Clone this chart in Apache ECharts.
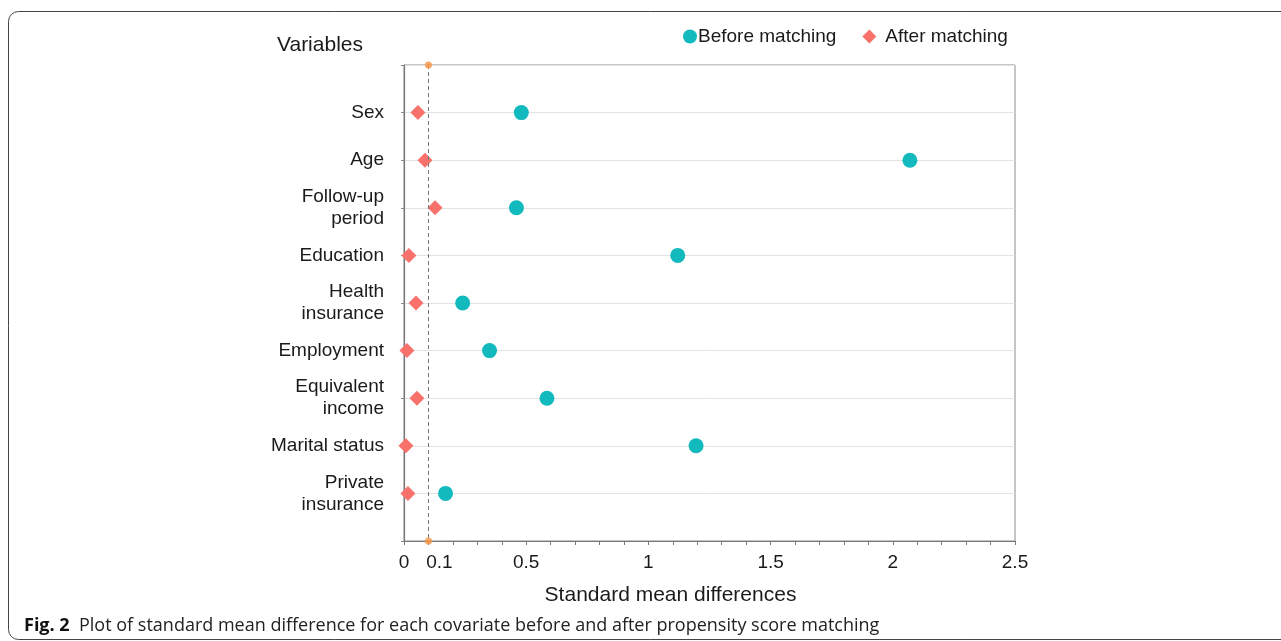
<!DOCTYPE html>
<html>
<head>
<meta charset="utf-8">
<script src="https://cdn.jsdelivr.net/npm/echarts@6/dist/echarts.min.js"></script>
<style>
html,body{margin:0;padding:0;background:#fff;}
#c{width:1281px;height:641px;}
</style>
</head>
<body>
<div id="c"></div>
<script>
const categories = ['', 'Sex', 'Age', 'Follow-up\nperiod', 'Education', 'Health\ninsurance', 'Employment', 'Equivalent\nincome', 'Marital status', 'Private\ninsurance', ''];
const variables = categories.slice(1, 10);
const beforeMatching = [0.48, 2.07, 0.46, 1.12, 0.24, 0.35, 0.585, 1.195, 0.17];
const afterMatching = [0.057, 0.086, 0.127, 0.02, 0.049, 0.012, 0.053, 0.008, 0.016];
const threshold = 0.1;
const xTickLabels = [0, 0.1, 0.5, 1, 1.5, 2, 2.5];

const font = 'Liberation Sans, Arial, sans-serif';
const capFont = 'Open Sans, Noto Sans, sans-serif';
const chart = echarts.init(document.getElementById('c'), null, {renderer: 'canvas'});

chart.setOption({
  animation: false,
  backgroundColor: '#fff',
  title: {
    text: 'Variables', left: 272, top: 30,
    textStyle: {fontFamily: font, fontSize: 21, fontWeight: 'normal', color: '#1a1a1a'}
  },
  grid: {left: 404, right: 266, top: 65, bottom: 100, show: true, borderColor: '#8c8c8c', borderWidth: 1},
  legend: {
    top: 22, left: 678,
    itemGap: 26, itemWidth: 14, itemHeight: 14,
    textStyle: {fontFamily: font, fontSize: 19, color: '#1a1a1a'},
    data: [
      {name: 'Before matching', icon: 'circle', textStyle: {padding: [0, 0, 0, -4]}},
      {name: 'After matching', icon: 'diamond', textStyle: {padding: [0, 0, 0, 4]}}
    ]
  },
  xAxis: {
    type: 'value', min: 0, max: 2.5, interval: 0.1,
    name: 'Standard mean differences', nameLocation: 'middle', nameGap: 44,
    nameTextStyle: {fontFamily: font, fontSize: 21, color: '#1a1a1a', padding: [0, 78, 0, 0]},
    axisLine: {show: true, lineStyle: {color: '#777', width: 1.2}},
    axisTick: {show: true, length: 4, lineStyle: {color: '#777'}},
    splitLine: {show: false},
    axisLabel: {
      margin: 12, fontFamily: font, fontSize: 19, color: '#1a1a1a',
      formatter: function (v) {
        const r = Math.round(v * 10) / 10;
        if (xTickLabels.indexOf(r) < 0) return '';
        if (r === 0.1) return '{s|0.1}';
        return String(r);
      },
      rich: {s: {fontFamily: font, fontSize: 19, color: '#1a1a1a', padding: [0, 0, 0, 22]}}
    }
  },
  yAxis: {
    type: 'category', inverse: true, boundaryGap: false, data: categories,
    axisLine: {show: true, lineStyle: {color: '#777', width: 1.2}},
    axisTick: {show: true, length: 3, alignWithLabel: true, lineStyle: {color: '#888'}},
    splitLine: {show: true, lineStyle: {color: '#e3e3e3', width: 1}},
    axisLabel: {margin: 20, fontFamily: font, fontSize: 19, color: '#1a1a1a', lineHeight: 22, align: 'right', interval: 0, padding: [4, 0, 0, 0]}
  },
  series: [
    {
      name: 'Before matching', type: 'scatter', symbol: 'circle', symbolSize: 15,
      itemStyle: {color: '#12b9bd', opacity: 1},
      data: variables.map((c, i) => [beforeMatching[i], i + 1]),
      z: 3
    },
    {
      name: 'After matching', type: 'scatter', symbol: 'diamond', symbolSize: 15,
      itemStyle: {color: '#f8716b', opacity: 1},
      data: variables.map((c, i) => [afterMatching[i], i + 1]),
      z: 4,
      markLine: {
        silent: true, symbol: ['none', 'none'],
        label: {show: false},
        lineStyle: {color: '#777', type: [4, 3], width: 1},
        data: [{xAxis: threshold}]
      }
    },
    {
      name: 'Threshold', type: 'scatter', symbol: 'circle', symbolSize: 7,
      itemStyle: {color: '#f7943f'}, silent: true, z: 5,
      data: [[threshold, 0], [threshold, categories.length - 1]]
    }
  ],
  graphic: [
    {type: 'rect', shape: {x: 8.5, y: 11.5, width: 1300, height: 628, r: 10}, style: {fill: 'none', stroke: '#444', lineWidth: 1}, silent: true},
    {type: 'text', left: 24, top: 617, style: {
      text: '{b|Fig. 2}  Plot of standard mean difference for each covariate before and after propensity score matching',
      rich: {b: {fontFamily: capFont, fontWeight: 'bold', fontSize: 18, fill: '#111'}},
      fontFamily: capFont, fontSize: 18, fill: '#222'
    }}
  ]
});
</script>
</body>
</html>
